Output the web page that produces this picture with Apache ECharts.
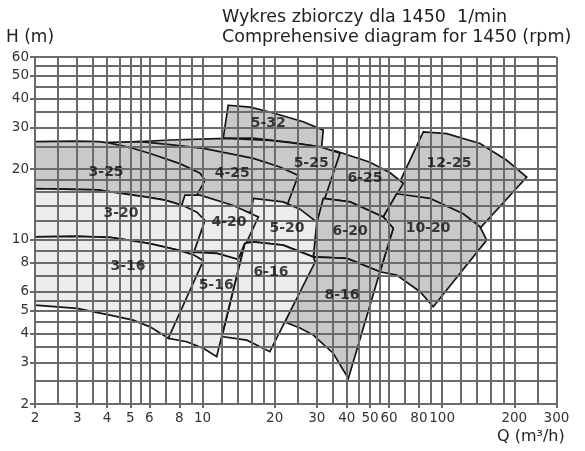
<!DOCTYPE html>
<html>
<head>
<meta charset="utf-8">
<script src="https://cdn.jsdelivr.net/npm/echarts@6/dist/echarts.min.js"></script>
<style>
  html, body { margin: 0; padding: 0; background: #fff; }
  #chart { width: 585px; height: 451px; }
</style>
</head>
<body>
<div id="chart"></div>
<script>
// osie: etykiety i linie siatki (Q w m3/h, H w m)
const xTickLabels = [2, 3, 4, 5, 6, 8, 10, 20, 30, 40, 50, 60, 80, 100, 200, 300];
const yTickLabels = [2, 3, 4, 5, 6, 8, 10, 20, 30, 40, 50, 60];
const xGridLines = [2, 2.5, 3, 3.5, 4, 4.5, 5, 5.5, 6, 7, 8, 9, 10, 12, 14, 16, 18, 20, 25, 30, 35, 40, 45,
  50, 55, 60, 70, 80, 90, 100, 120, 140, 160, 180, 200, 250, 300];
const yGridLines = [2, 2.5, 3, 3.5, 4, 4.5, 5, 5.5, 6, 7, 8, 9, 10, 12, 14, 16, 18, 20, 25, 30, 35, 40, 45, 50, 55, 60];

// pola pracy pomp [Q, H], w kolejnosci rysowania
const pump_5_32 = [[12.8, 37.4], [15.8, 36.7], [19.1, 35.0], [26.3, 31.8], [31.9, 29.3], [31.4, 24.8], [23.2, 26.0], [16.2, 27.1], [12.2, 27.0]];
const pump_12_25 = [[83.4, 28.8], [104.5, 28.3], [143.9, 25.7], [185.9, 21.8], [225.3, 18.5], [143.9, 11.2], [89.0, 14.0], [56.8, 12.5]];
const pump_6_25 = [[35.0, 24.1], [50.0, 21.4], [60.6, 19.3], [68.9, 17.4], [56.8, 12.5], [41.3, 14.5], [31.9, 15.0]];
const pump_5_25 = [[5.49, 26.2], [7.32, 26.6], [12.6, 27.0], [19.1, 26.5], [23.2, 25.9], [30.9, 24.9], [37.5, 23.4], [30.0, 11.9], [25.5, 12.7], [21.7, 13.8], [16.7, 14.0], [14.3, 16.3], [6.65, 24.1]];
const pump_4_25 = [[4.11, 26.0], [5.49, 26.2], [7.32, 25.4], [10.08, 24.5], [16.3, 22.2], [21.05, 20.4], [25.1, 18.8], [22.46, 13.9], [16.7, 13.1], [12.78, 13.1], [8.87, 14.0]];
const pump_3_25 = [[2, 26.2], [2.94, 26.3], [3.7, 26.2], [4.11, 25.8], [4.98, 24.7], [6.04, 23.3], [8.05, 21.1], [9.77, 19.2], [10.24, 17.9], [8.87, 13.7], [8.29, 14.0], [6.97, 14.75], [5.87, 15.2], [3.63, 16.3], [2, 16.5]];
const pump_10_20 = [[64.6, 15.7], [89.0, 15.0], [122.5, 12.9], [143.9, 11.35], [153.4, 9.97], [91.8, 5.19], [80.8, 6.01], [64.6, 7.08], [55.0, 7.31], [62.5, 11.2], [56.8, 12.5]];
const pump_6_20 = [[31.9, 15.0], [41.3, 14.5], [56.8, 12.5], [62.5, 11.2], [55.0, 7.31], [40.1, 8.33], [29.0, 8.46], [29.8, 11.5]];
const pump_5_20 = [[16.3, 15.0], [21.7, 14.5], [25.5, 13.5], [30.0, 11.9], [29.0, 8.46], [21.7, 9.49], [16.3, 9.80], [15.2, 9.97]];
const pump_4_20 = [[8.45, 15.5], [9.77, 15.5], [13.45, 14.0], [17.1, 12.5], [14.1, 8.19], [11.5, 8.75], [9.04, 8.86], [7.46, 10.5]];
const pump_3_20 = [[2, 16.5], [3.63, 16.3], [5.87, 15.2], [6.97, 14.75], [8.29, 14.0], [9.48, 13.1], [10.24, 12.1], [9.13, 8.65], [7.90, 9.04], [6.04, 9.63], [5.13, 9.90], [4.11, 10.24], [2.99, 10.35], [2, 10.3]];
const pump_8_16 = [[29.0, 8.46], [40.1, 8.33], [55.0, 7.31], [40.6, 2.57], [35.1, 3.29], [29.0, 3.93], [25.5, 4.21], [22.1, 4.47]];
const pump_6_16 = [[15.0, 9.65], [16.3, 9.80], [21.7, 9.49], [29.0, 8.46], [29.5, 8.04], [19.1, 3.34], [15.3, 3.74], [12.06, 3.87]];
const pump_5_16 = [[9.04, 8.86], [11.5, 8.75], [14.1, 8.25], [15.0, 9.65], [11.46, 3.18], [10.08, 3.45], [8.59, 3.68], [7.20, 3.81]];
const pump_3_16 = [[2, 10.3], [2.99, 10.35], [4.11, 10.24], [5.13, 9.90], [6.04, 9.63], [7.90, 9.04], [9.13, 8.65], [10.08, 8.15], [7.20, 3.81], [6.04, 4.26], [5.14, 4.55], [4.11, 4.78], [2.99, 5.11], [2, 5.27]];

// opisy pol [Q, H, nazwa]
const pumpLabels = [
  [18.8, 31.3, '5-32'], [3.96, 19.4, '3-25'], [13.3, 19.2, '4-25'], [28.4, 21.2, '5-25'],
  [47.6, 18.3, '6-25'], [106.8, 21.2, '12-25'], [4.57, 13.0, '3-20'], [12.9, 11.9, '4-20'],
  [22.5, 11.2, '5-20'], [41.3, 10.9, '6-20'], [87.3, 11.2, '10-20'], [4.89, 7.73, '3-16'],
  [11.4, 6.42, '5-16'], [19.3, 7.29, '6-16'], [38.2, 5.82, '8-16']
];

const pumps = [
  ['5-32', pump_5_32], ['12-25', pump_12_25], ['6-25', pump_6_25], ['5-25', pump_5_25],
  ['4-25', pump_4_25], ['3-25', pump_3_25], ['10-20', pump_10_20], ['6-20', pump_6_20],
  ['5-20', pump_5_20], ['4-20', pump_4_20], ['3-20', pump_3_20], ['8-16', pump_8_16],
  ['6-16', pump_6_16], ['5-16', pump_5_16], ['3-16', pump_3_16]
];
const lightPumps = ['3-20', '3-16', '4-20', '5-16', '5-20', '6-16'];

const gridColor = '#6b6b6b';
const font = 'DejaVu Sans';

const regionSeries = pumps.map(([name, pts], idx) => ({
  type: 'custom',
  name: name,
  data: pts,
  silent: true,
  animation: false,
  z: 2,
  renderItem: function (params, api) {
    if (params.dataIndex !== 0) return null;
    return {
      type: 'polygon',
      z2: idx,
      shape: { points: pts.map(p => api.coord(p)) },
      style: {
        fill: lightPumps.includes(name) ? '#ececec' : '#c9c9cc',
        stroke: '#151515',
        lineWidth: 1.7,
        lineJoin: 'miter'
      }
    };
  }
}));

const chart = echarts.init(document.getElementById('chart'), null, { renderer: 'canvas' });

chart.setOption({
  animation: false,
  backgroundColor: '#fff',
  grid: { left: 35, right: 28.5, top: 57, bottom: 47 },
  graphic: [
    { type: 'text', left: 222, top: 8, style: { text: 'Wykres zbiorczy dla 1450  1/min', font: '17.5px "DejaVu Sans"', fill: '#222' } },
    { type: 'text', left: 222, top: 28, style: { text: 'Comprehensive diagram for 1450 (rpm)', font: '17.5px "DejaVu Sans"', fill: '#222' } },
    { type: 'text', left: 6, top: 29, style: { text: 'H (m)', font: '17px "DejaVu Sans"', fill: '#222' } },
    { type: 'text', left: 497, top: 429, style: { text: 'Q (m\u00b3/h)', font: '16px "DejaVu Sans"', fill: '#222' } }
  ],
  xAxis: {
    type: 'log',
    logBase: 10,
    min: 2,
    max: 300,
    splitLine: { show: false },
    axisLine: { show: false },
    axisTick: { show: true, length: 4, customValues: xTickLabels, lineStyle: { color: gridColor, width: 2 } },
    axisLabel: { customValues: xTickLabels, margin: 7, fontFamily: font, fontSize: 13.5, color: '#333' }
  },
  yAxis: {
    type: 'log',
    logBase: 10,
    min: 2,
    max: 60,
    splitLine: { show: false },
    axisLine: { show: false },
    axisTick: { show: true, length: 5, customValues: yTickLabels, lineStyle: { color: gridColor, width: 2 } },
    axisLabel: { customValues: yTickLabels, margin: 6, fontFamily: font, fontSize: 13.5, color: '#333' }
  },
  series: regionSeries.concat([
    {
      type: 'scatter',
      name: 'siatka',
      data: [],
      clip: false,
      silent: true,
      z: 10,
      markLine: {
        silent: true,
        animation: false,
        symbol: 'none',
        label: { show: false },
        emphasis: { disabled: true },
        lineStyle: { color: gridColor, width: 2, type: 'solid' },
        data: xGridLines.map(v => ({ xAxis: v })).concat(yGridLines.map(v => ({ yAxis: v })))
      }
    },
    {
      type: 'scatter',
      name: 'opisy',
      data: pumpLabels,
      symbolSize: 0,
      silent: true,
      z: 20,
      label: {
        show: true,
        position: 'inside',
        formatter: p => p.value[2],
        fontFamily: font,
        fontWeight: 'bold',
        fontSize: 14,
        color: '#111'
      }
    }
  ])
});
</script>
</body>
</html>
